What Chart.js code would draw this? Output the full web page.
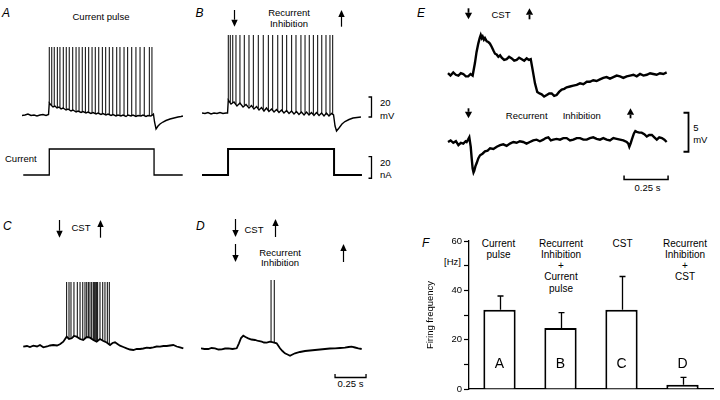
<!DOCTYPE html>
<html>
<head>
<meta charset="utf-8">
<script src="https://cdn.jsdelivr.net/npm/chart.js@4"></script>
<style>
  html, body { margin: 0; padding: 0; background: #fff; }
  #fig { position: relative; width: 720px; height: 400px; overflow: hidden;
         font-family: "Liberation Sans", Arial, sans-serif; color: #000; }
  canvas { position: absolute; }
  .t { position: absolute; font-size: 9.5px; line-height: 1; white-space: nowrap; transform: translate(-50%, -50%); }
  .t.l { transform: translate(0, -50%); }
  .t.f { font-size: 10px; line-height: 11.3px; text-align: center; transform: translate(-50%, 0); }
  .p { position: absolute; font-size: 12px; font-style: italic; line-height: 1; transform: translate(0, -50%); }
</style>
</head>
<body>
<div id="fig">
  <div class="p" style="left:2px;top:12.5px">A</div>
  <div class="t" style="left:101px;top:16.5px">Current pulse</div>
  <div class="t l" style="left:5px;top:159px">Current</div>

  <div class="p" style="left:195.5px;top:12.5px">B</div>
  <div class="t" style="left:289px;top:13.3px">Recurrent</div>
  <div class="t" style="left:289px;top:24px">Inhibition</div>
  <div class="t l" style="left:380px;top:103.3px">20</div>
  <div class="t l" style="left:380px;top:116px">mV</div>
  <div class="t l" style="left:380px;top:163.3px">20</div>
  <div class="t l" style="left:380px;top:175px">nA</div>

  <div class="p" style="left:3px;top:226px">C</div>
  <div class="t" style="left:81px;top:228px">CST</div>

  <div class="p" style="left:196px;top:226px">D</div>
  <div class="t" style="left:254px;top:230px">CST</div>
  <div class="t" style="left:280px;top:253px">Recurrent</div>
  <div class="t" style="left:280px;top:263px">Inhibition</div>
  <div class="t" style="left:350.5px;top:384px">0.25 s</div>

  <div class="p" style="left:417px;top:12.5px">E</div>
  <div class="t" style="left:501px;top:14.5px">CST</div>
  <div class="t" style="left:526.7px;top:116.3px">Recurrent</div>
  <div class="t" style="left:581.7px;top:116.3px">Inhibition</div>
  <div class="t" style="left:696px;top:128.3px">5</div>
  <div class="t" style="left:700.3px;top:140px">mV</div>
  <div class="t" style="left:647.5px;top:188.3px">0.25 s</div>

  <div class="p" style="left:422px;top:243px">F</div>
  <div class="t" style="left:452.5px;top:262px">[Hz]</div>
  <div class="t f" style="left:498.5px;top:237.6px">Current<br>pulse</div>
  <div class="t f" style="left:561px;top:237.6px">Recurrent<br>Inhibition<br>+<br>Current<br>pulse</div>
  <div class="t f" style="left:622.5px;top:237.6px">CST</div>
  <div class="t f" style="left:685px;top:237.6px">Recurrent<br>Inhibition<br>+<br>CST</div>
</div>
<script>
// times in ms, membrane potential in mV, current in nA

// A: current pulse
const aTrace = [[0,-65.5],[24,-65],[48,-64],[73,-65.5],[97,-65],[121,-66],[145,-65],[169,-64.5],[194,-65.5],[214,-64.5],
  [220,-53],[234,-55],[250,-57],[266,-56],[282,-58],[298,-57],[315,-59],[331,-58],[355,-60],[371,-59],[395,-61],[411,-60],
  [436,-62],[452,-61],[476,-62.5],[492,-61.5],[516,-63],[532,-62],[556,-63.5],[573,-62.5],[597,-64],[613,-63],[637,-64.5],
  [653,-63.5],[677,-65],[694,-64],[718,-65.5],[734,-64.5],[758,-66],[774,-65],[798,-66],[815,-65],[839,-66.5],[855,-65],
  [879,-66],[895,-65],[919,-66.5],[936,-65.5],[960,-66],[976,-65],[1000,-66.5],[1016,-65.5],[1040,-66],[1060,-64],
  [1069,-72],[1081,-79],[1097,-76],[1113,-74],[1137,-72],[1161,-70.5],[1194,-69],[1226,-68],[1258,-67],[1282,-66.5],[1298,-66]];
const aSpikes = [[220,-53],[240,-55],[260,-56],[285,-57],[306,-58],[333,-58],[357,-59],[381,-60],[409,-60],[436,-61],
  [460,-61],[486,-62],[511,-62],[538,-63],[565,-63],[591,-63],[619,-64],[648,-64],[675,-64],[704,-65],[732,-65],[764,-65],
  [790,-65],[823,-66],[852,-65],[885,-66],[919,-66],[952,-66],[986,-66],[1027,-66],[1048,-66]];
const aPeak = 3;
const aCurrent = [[10,0],[220,0],[220,24],[1065,24],[1065,0],[1296,0]];

// B: recurrent inhibition + current pulse
const bTrace = [[0,-65],[24,-65.5],[48,-64.5],[73,-66],[97,-65],[121,-65.5],[145,-64.5],[169,-65.5],[194,-65],[206,-65],
  [212,-52],[234,-56],[258,-54],[282,-58],[306,-55],[331,-59],[355,-56.5],[379,-60],[399,-57.5],[419,-61],[440,-58.5],
  [460,-62],[480,-59.5],[500,-63],[520,-60],[540,-63.5],[561,-61],[581,-64],[601,-61.5],[621,-64.5],[641,-62],[661,-65],
  [682,-62.5],[702,-65.5],[722,-63],[742,-66],[762,-63.5],[782,-66.5],[802,-64],[823,-67],[843,-64],[863,-67],[883,-64.5],
  [903,-67.5],[923,-64.5],[944,-67.5],[964,-65],[984,-68],[1004,-65],[1024,-68],[1045,-65.5],[1061,-67],
  [1073,-78],[1085,-83],[1105,-80],[1129,-76],[1153,-73.5],[1186,-71.5],[1218,-70],[1250,-69.5],[1282,-69]];
const bSpikes = [[212,-52],[228,-54],[248,-55],[274,-56],[306,-55],[341,-57],[379,-58],[414,-59],[454,-60],[494,-61],
  [535,-62],[570,-62],[611,-63],[648,-63],[683,-64],[723,-64],[758,-65],[798,-65],[831,-65],[865,-66],[898,-66],[933,-66],
  [966,-66],[1000,-67],[1032,-67],[1054,-67]];
const bPeak = 13;
const bCurrent = [[0,0],[210,0],[210,24],[1065,24],[1065,0],[1290,0]];
const bInhibition = [258, 1121];

// C: CST
const cTrace = [[2,-64.7],[32,-64],[56,-65],[83,-63.7],[113,-64.5],[137,-63],[164,-65.3],[194,-64.5],[218,-63.5],[244,-63],
  [274,-63.5],[298,-62.3],[325,-59.7],[352,-54.7],[371,-57],[393,-56.3],[411,-54],[433,-54.7],[460,-57],[486,-58],[514,-55],
  [540,-55.7],[567,-58],[594,-59.7],[621,-57],[648,-59],[675,-60.5],[702,-63],[722,-61],[742,-60.3],[762,-62],[782,-63.7],
  [809,-65],[836,-66.3],[863,-67.5],[890,-68],[917,-67],[944,-67],[970,-66.5],[998,-65.7],[1024,-66],[1051,-65.3],
  [1078,-64.5],[1105,-64.7],[1132,-64],[1159,-64],[1186,-63.5],[1212,-63],[1240,-64.5],[1266,-65.3],[1293,-66.3]];
const cSpikes = [[352,-55],[371,-57],[387,-56],[411,-54],[438,-56],[460,-57],[482,-58],[500,-57],[514,-55],[527,-56],
  [540,-56],[554,-57],[567,-58],[575,-58],[583,-59],[594,-60],[602,-59],[621,-57],[643,-59],[661,-60],[680,-61],[696,-63]];
const cPeak = 0;
const cCst = [290, 621];

// D: CST + recurrent inhibition
const dTrace = [[0,-68.3],[28,-69],[59,-69],[85,-68],[113,-68.3],[141,-69.5],[167,-69.3],[194,-68.5],[220,-68.3],[254,-69],
  [288,-68.3],[306,-63.3],[323,-58],[341,-55.7],[359,-57],[381,-58.3],[407,-59.5],[435,-60],[462,-61],[490,-61.7],[508,-62.5],
  [530,-62.7],[556,-61.7],[583,-62.3],[610,-63.3],[625,-66],[637,-68.3],[657,-71],[677,-73.3],[698,-74.5],[718,-75.7],
  [738,-74.5],[758,-73.3],[798,-72],[839,-71],[879,-70.5],[919,-70],[960,-69.5],[1000,-69],[1040,-68.5],[1081,-68.3],
  [1121,-68],[1161,-67.7],[1190,-67],[1215,-66.7],[1242,-67.5],[1269,-68.3],[1296,-69]];
const dSpikes = [[565,-62],[591,-62]];
const dPeak = 0;
const dCst = [274, 597];
const dInhibition = [274, 1148];

// E: averaged responses (relative potential, mV)
const eCstTrace = [[0,0.1],[14,-0.2],[30,0.2],[44,-0.1],[59,-0.2],[73,0.1],[87,0],[101,-0.3],[115,-0.3],[128,0],[140,-0.2],
  [153,1.4],[162,2.8],[172,3.9],[180,4.6],[186,5],[192,4.6],[197,4.8],[204,4.4],[210,4.6],[220,4.2],[229,4.1],[238,3.9],
  [248,3.5],[258,3],[267,2.6],[276,2.5],[286,2.2],[296,2.4],[305,2.1],[319,1.8],[333,1.9],[347,2.2],[362,2],[376,1.7],
  [390,1.8],[404,2.1],[419,1.9],[433,1.7],[447,2],[460,1.8],[470,1.9],[481,0.5],[494,-1.2],[507,-2.3],[520,-2.5],[532,-2.6],
  [546,-2.9],[561,-2.7],[575,-2.5],[589,-2.5],[603,-2.8],[617,-2.7],[631,-2.3],[646,-2],[660,-1.9],[674,-1.7],[693,-1.6],
  [712,-1.5],[731,-1.4],[750,-1.2],[769,-1.3],[788,-1],[806,-1],[825,-0.8],[844,-0.9],[863,-0.7],[882,-0.5],[901,-0.4],
  [920,-0.6],[939,-0.4],[958,-0.2],[977,-0.3],[996,-0.5],[1015,-0.3],[1034,-0.2],[1053,-0.1],[1072,-0.3],[1091,0],
  [1110,-0.2],[1129,-0.1],[1148,0.1],[1166,0],[1185,-0.1],[1204,0.1],[1223,0],[1242,0.2]];
const eRiTrace = [[0,0],[15,0.2],[30,-0.1],[45,0.1],[59,-0.4],[73,-0.1],[87,-0.2],[100,0.1],[106,0],[114,0.3],[121,0.6],
  [129,-0.6],[135,-2.2],[140,-3.4],[145,-3.9],[149,-3.7],[156,-3.1],[163,-2.7],[172,-2.1],[182,-1.7],[196,-1.5],[210,-1.2],
  [225,-1.1],[239,-0.8],[258,-0.9],[277,-0.6],[296,-0.4],[314,-0.3],[333,-0.5],[352,-0.2],[371,0],[390,-0.1],[408,0.1],
  [427,0],[446,-0.2],[465,0],[484,0.2],[503,0.3],[522,0.1],[541,0.3],[555,0.5],[570,0.6],[584,0.2],[598,0.3],[617,0.4],
  [636,0.3],[655,0.5],[674,0.5],[693,0.2],[712,0.3],[731,0.5],[750,0.5],[769,0.3],[788,0.3],[806,0.5],[825,0.6],[844,0.4],
  [863,0.3],[882,0.5],[901,0.3],[920,0.2],[939,0.5],[958,0.4],[977,0.3],[996,0.2],[1015,0],[1024,-0.2],[1030,-0.6],
  [1037,-0.2],[1044,0.3],[1056,1.1],[1064,1.4],[1072,1.3],[1086,1.2],[1100,1.2],[1115,1],[1129,0.7],[1143,0.9],[1158,0.9],
  [1172,0.6],[1186,0.3],[1200,0.6],[1215,0.5],[1229,0.3],[1242,0]];
const eCst = [115, 462];
const eInhibition = [115, 1034];

// F: firing frequency (Hz), mean and upper SD
const categories = ['A', 'B', 'C', 'D'];
const rates = [32.1, 24.7, 32.1, 1.7];
const rateErrors = [5.6, 6.3, 13.5, 3.0];
const rateTicks = [0, 20, 40, 60];

const FONT = '"Liberation Sans", Arial, sans-serif';
const fig = document.getElementById('fig');

// axis min/max so that value 0 lands on zeroPx, with ppu pixels per unit
function span(start, len, zeroPx, ppu, flip) {
  const a = (start - zeroPx) / ppu, b = (start + len - zeroPx) / ppu;
  return flip ? { min: -b, max: -a } : { min: a, max: b };
}

function addCanvas([left, top, w, h]) {
  const cv = document.createElement('canvas');
  cv.width = w; cv.height = h;
  cv.style.left = left + 'px'; cv.style.top = top + 'px';
  fig.appendChild(cv);
  return cv;
}

// stimulus arrows and scale bars, placed through the chart scales
const marksPlugin = {
  id: 'marks',
  afterDatasetsDraw(chart, _args, o) {
    const { ctx, scales } = chart;
    ctx.save();
    ctx.strokeStyle = ctx.fillStyle = '#000';
    (o.arrows || []).forEach(a => {
      const x = Math.round(scales.x.getPixelForValue(a.t)) + 0.5;
      const y0 = a.y0 - o.top, y1 = a.y1 - o.top;
      const tip = a.up ? y0 : y1;
      const base = a.up ? y0 + a.head : y1 - a.head;
      ctx.lineWidth = a.lw;
      ctx.beginPath();
      ctx.moveTo(x, a.up ? base : y0);
      ctx.lineTo(x, a.up ? y1 : base);
      ctx.stroke();
      ctx.beginPath();
      ctx.moveTo(x - a.half, base);
      ctx.lineTo(x + a.half, base);
      ctx.lineTo(x, tip);
      ctx.closePath();
      ctx.fill();
    });
    (o.bars || []).forEach(b => {
      const s = scales[b.axis];
      ctx.lineWidth = b.lw;
      ctx.beginPath();
      if (b.axis === 'x') {
        const y = Math.round(scales[b.on].getPixelForValue(b.at)) + 0.5;
        const x1 = s.getPixelForValue(b.from), x2 = s.getPixelForValue(b.to);
        ctx.moveTo(x1, y - b.tick); ctx.lineTo(x1, y); ctx.lineTo(x2, y); ctx.lineTo(x2, y - b.tick);
      } else {
        const x = Math.round(scales.x.getPixelForValue(b.at)) + 0.5;
        const y1 = s.getPixelForValue(b.from), y2 = s.getPixelForValue(b.to);
        ctx.moveTo(x - b.tick, y1); ctx.lineTo(x, y1); ctx.lineTo(x, y2); ctx.lineTo(x - b.tick, y2);
      }
      ctx.stroke();
    });
    ctx.restore();
  }
};

const THIN = { head: 7, half: 3.2, lw: 1.2 };
const BOLD = { head: 6.5, half: 3.6, lw: 1.8 };
function arrowPair(times, y0, y1, style) {
  return [{ t: times[0], y0, y1, up: false, ...style }, { t: times[1], y0, y1, up: true, ...style }];
}

const line = (pairs, width, yAxisID = 'y') => ({
  data: pairs.map(([x, y]) => ({ x, y })),
  showLine: true, borderColor: '#000', borderWidth: width, pointRadius: 0,
  spanGaps: false, yAxisID, clip: false
});
// each spike: vertical stroke from its foot up to the peak
const spikeLines = (list, peak) => line(list.flatMap(([t, foot]) => [[t, foot], [t, peak], [t, null]]), 1);

function traceChart(box, xMap, yMaps, datasets, marks) {
  const [left, top, w, h] = box;
  const scales = { x: { type: 'linear', display: false, ...span(left, w, xMap[0], xMap[1]) } };
  for (const id in yMaps) {
    scales[id] = { type: 'linear', display: false, ...span(top, h, yMaps[id][0], yMaps[id][1], true) };
  }
  return new Chart(addCanvas(box), {
    type: 'scatter',
    data: { datasets },
    options: {
      responsive: false, animation: false, events: [], devicePixelRatio: 1,
      layout: { padding: 0, autoPadding: false },
      plugins: { legend: { display: false }, tooltip: { enabled: false }, marks: { top, ...marks } },
      scales
    },
    plugins: [marksPlugin]
  });
}

// panels A-D: 0.25 s = 31 px, 1 px per mV, 1.083 px per nA
const MS = 1 / 8.065;
const NA = 1.083;

traceChart([22, 0, 175, 140], [22, MS], { y: [50, 1] }, [line(aTrace, 1.4), spikeLines(aSpikes, aPeak)], {});
traceChart([22, 140, 175, 45], [22, MS], { y: [175, NA] }, [line(aCurrent, 1.3)], {});

traceChart([202, 0, 195, 140], [202, MS], { y: [48, 1] }, [line(bTrace, 1.4), spikeLines(bSpikes, bPeak)], {
  arrows: arrowPair(bInhibition, 10, 26.7, THIN),
  bars: [{ axis: 'y', at: 1360, from: -49, to: -69, tick: 3, lw: 1.3 }]
});
traceChart([202, 140, 195, 45], [202, MS], { y: [175, NA] }, [line(bCurrent, 2)], {
  bars: [{ axis: 'y', at: 1360, from: -3, to: 17, tick: 3, lw: 1.3 }]
});

traceChart([23, 200, 175, 165], [23, MS], { y: [282, 1] }, [line(cTrace, 1.8), spikeLines(cSpikes, cPeak)], {
  arrows: arrowPair(cCst, 220, 237.7, THIN)
});

traceChart([201, 200, 175, 195], [201, MS], { y: [280, 1] }, [line(dTrace, 1.8), spikeLines(dSpikes, dPeak)], {
  arrows: [...arrowPair(dCst, 219, 237, THIN), ...arrowPair(dInhibition, 244, 262, THIN)],
  bars: [{ axis: 'x', on: 'y', at: -96.7, from: 1081, to: 1331, tick: 3.5, lw: 1.3 }]
});

// panel E: 0.25 s = 44 px, 7.8 px per mV
traceChart([440, 0, 280, 200], [448, 1 / 5.68], { yTop: [74, 7.8], yBot: [142, 7.8] },
  [line(eCstTrace, 2.4, 'yTop'), line(eRiTrace, 2.4, 'yBot')], {
  arrows: [...arrowPair(eCst, 8.3, 19.3, BOLD), ...arrowPair(eInhibition, 108.3, 118.3, BOLD)],
  bars: [
    { axis: 'yBot', at: 1365, from: -1.25, to: 3.75, tick: 5, lw: 1.8 },
    { axis: 'x', on: 'yBot', at: -4.78, from: 1000, to: 1250, tick: 4, lw: 1.5 }
  ]
});

// panel F: bars with upper error bars and the letters inside
const errPlugin = {
  id: 'errs',
  afterDatasetsDraw(chart) {
    const { ctx, chartArea } = chart;
    const y = chart.scales.y;
    ctx.save();
    ctx.strokeStyle = ctx.fillStyle = '#000';
    ctx.lineWidth = 1.3;
    chart.getDatasetMeta(0).data.forEach((bar, i) => {
      const x = Math.round(bar.x) + 0.5;
      const top = y.getPixelForValue(rates[i] + rateErrors[i]);
      ctx.beginPath();
      ctx.moveTo(x, bar.y); ctx.lineTo(x, top);
      ctx.moveTo(x - 3, top); ctx.lineTo(x + 3, top);
      ctx.stroke();
      ctx.font = '14px ' + FONT;
      ctx.textAlign = 'center';
      ctx.fillText(categories[i], bar.x, chartArea.bottom - 21);
    });
    ctx.restore();
  }
};

new Chart(addCanvas([420, 225, 300, 175]), {
  type: 'bar',
  data: {
    labels: categories,
    datasets: [{
      data: rates, backgroundColor: '#fff', borderColor: '#000', borderWidth: 2,
      barPercentage: 0.53, categoryPercentage: 1
    }]
  },
  options: {
    responsive: false, animation: false, events: [], devicePixelRatio: 1,
    layout: { padding: { left: 5, top: 16, right: 7, bottom: 11 } },
    plugins: { legend: { display: false }, tooltip: { enabled: false } },
    scales: {
      x: {
        grid: { display: false }, ticks: { display: false },
        border: { color: '#000', width: 1.3 },
        afterFit: s => { s.height = 0; }
      },
      y: {
        min: 0, max: 60,
        ticks: {
          stepSize: 10, autoSkip: false, color: '#000', padding: 2,
          font: { size: 9.5, family: FONT },
          callback: v => rateTicks.includes(v) ? v : ''
        },
        grid: { drawOnChartArea: false, tickLength: 5, color: '#000', tickWidth: 1.2 },
        border: { color: '#000', width: 1.3 },
        title: { display: true, text: 'Firing frequency', color: '#000', padding: 0, font: { size: 9.5, family: FONT } },
        afterFit: s => { s.width = 44; }
      }
    }
  },
  plugins: [errPlugin]
});
</script>
</body>
</html>
